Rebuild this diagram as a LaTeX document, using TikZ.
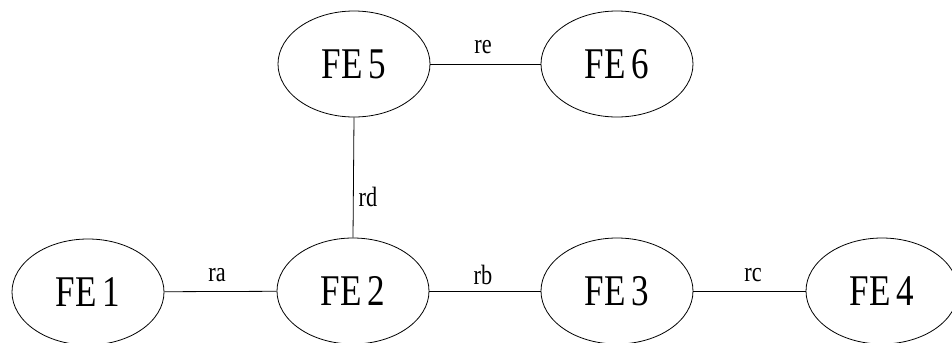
\documentclass[tikz,border=0pt]{standalone}
\usepackage{fontspec}
\usepackage{graphicx}
\setmainfont{Liberation Serif}
\usetikzlibrary{shapes.geometric}
\newcommand{\fetext}[1]{\scalebox{0.8}[1]{#1}}
\tikzset{
  fe/.style={ellipse, draw, line width=0.8bp, minimum width=152bp, minimum height=106bp, inner sep=0pt,
    font=\fontsize{44}{44}\selectfont},
  link/.style={draw, line width=0.8bp},
  lbl/.style={inner sep=0pt, font=\fontsize{28}{28}\selectfont}
}
\begin{document}
\begin{tikzpicture}[x=1bp,y=-1bp]
\useasboundingbox (0,0) rectangle (952,342);
\node[fe] (fe1) at (88,292) {\fetext{FE\,1}};
\node[fe] (fe2) at (353,291) {\fetext{FE\,2}};
\node[fe] (fe3) at (617,291) {\fetext{FE\,3}};
\node[fe] (fe4) at (882,291) {\fetext{FE\,4}};
\node[fe] (fe5) at (354,64) {\fetext{FE\,5}};
\node[fe] (fe6) at (617,64) {\fetext{FE\,6}};
\draw[link] (fe1) -- (fe2);
\draw[link] (fe2) -- (fe3);
\draw[link] (fe3) -- (fe4);
\draw[link] (fe5) -- (fe6);
\draw[link] (fe5.south) -- (fe2.north);
\node[lbl] (ra) at (217,275) {\fetext{ra}};
\node[lbl] (rb) at (483,275) {\fetext{rb}};
\node[lbl] (rc) at (753,275) {\fetext{rc}};
\node[lbl] (re) at (483,47) {\fetext{re}};
\node[lbl] (rd) at (368,197) {\fetext{rd}};
\end{tikzpicture}
\end{document}
